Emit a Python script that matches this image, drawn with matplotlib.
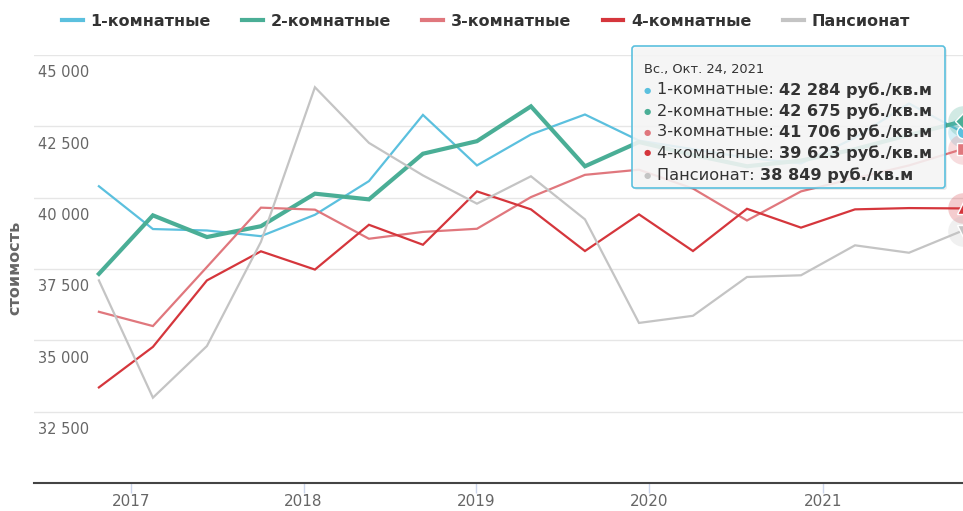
import matplotlib
matplotlib.use("Agg")
import matplotlib.pyplot as plt
import matplotlib.dates as mdates
from matplotlib.lines import Line2D
from matplotlib.patches import FancyBboxPatch
import pandas as pd

# dates of the quarterly-ish points
dates = ["2016-10-26", "2017-02-17", "2017-06-11", "2017-10-03", "2018-01-25",
         "2018-05-19", "2018-09-10", "2019-01-02", "2019-04-26", "2019-08-18",
         "2019-12-10", "2020-04-02", "2020-07-25", "2020-11-16", "2021-03-10",
         "2021-07-02", "2021-10-24"]

rooms1 = [40400, 38900, 38850, 38650, 39400, 40580, 42900, 41130, 42215, 42915,
          42000, 41700, 41400, 41200, 42100, 43300, 42284]
rooms2 = [37330, 39380, 38620, 39000, 40140, 39940, 41540, 41980, 43200, 41100,
          41950, 41500, 41100, 41300, 41700, 42200, 42675]
rooms3 = [36000, 35500, 37570, 39650, 39580, 38560, 38800, 38910, 40020, 40800,
          40980, 40320, 39200, 40220, 40680, 41130, 41706]
rooms4 = [33350, 34770, 37100, 38120, 37480, 39050, 38350, 40220, 39590, 38130,
          39415, 38130, 39610, 38950, 39590, 39635, 39623]
pension = [37100, 32990, 34800, 38450, 43870, 41920, 40780, 39790, 40750, 39240,
           35610, 35860, 37220, 37280, 38330, 38070, 38849]

names = ["1-комнатные", "2-комнатные", "3-комнатные", "4-комнатные", "Пансионат"]
colors = ["#5bc0de", "#4aae96", "#e0777d", "#d5363c", "#c4c4c4"]
widths = [1.6, 3.0, 1.6, 1.6, 1.6]
end_markers = ["o", "D", "s", "^", "v"]
yticks = [30000, 32500, 35000, 37500, 40000, 42500, 45000]
years = ["2017", "2018", "2019", "2020", "2021"]
tooltip_title = "Вс., Окт. 24, 2021"

series = [rooms1, rooms2, rooms3, rooms4, pension]
x = pd.to_datetime(dates)

W, H = 963, 511
fig = plt.figure(figsize=(W / 100, H / 100), dpi=100)
ax = fig.add_axes([34 / W, 28 / H, (W - 34) / W, (483 - 55) / H])

handles = []
for vals, name, c, lw, m in zip(series, names, colors, widths, end_markers):
    ax.plot(x, vals, color=c, lw=lw, solid_joinstyle="miter", zorder=3)
    # hovered end point with halo
    ax.plot(x[-1:], vals[-1:], marker="o", ms=22, color=c, alpha=0.25,
            mec="none", clip_on=False, zorder=4)
    ax.plot(x[-1:], vals[-1:], marker=m, ms=9 if m != "D" else 8, color=c,
            mec="white", mew=1, clip_on=False, zorder=5)
    handles.append(Line2D([], [], color=c, lw=3))

right = x[-1]
left = right - pd.Timedelta(days=1961)
ax.set_xlim(left, right)
ax.set_ylim(30000, 45000)

ax.set_yticks(yticks)
ax.yaxis.grid(True, color="#e6e6e6", lw=1)
ax.tick_params(axis="y", length=0, labelleft=False)
for v in yticks[1:]:
    ax.annotate(f"{v:,}".replace(",", " "), xy=(0, v),
                xycoords=("axes fraction", "data"), xytext=(3, -7.5),
                textcoords="offset points", ha="left", va="top",
                fontsize=10.5, color="#666666")

ax.set_xticks(pd.to_datetime([y + "-01-01" for y in years]))
ax.xaxis.set_major_formatter(mdates.DateFormatter("%Y"))
ax.tick_params(axis="x", length=7, width=1, color="#ccd6eb", labelsize=11,
               labelcolor="#666666", pad=1)

for s in ["top", "right", "left"]:
    ax.spines[s].set_visible(False)
ax.spines["bottom"].set_color("#444444")
ax.spines["bottom"].set_linewidth(1.5)
ax.set_axisbelow(True)

fig.text(15 / W, 1 - 268 / H, "стоимость", rotation=90, ha="center",
         va="center", fontsize=11.5, color="#666666", fontweight="bold")

fig.legend(handles, names, loc="center", bbox_to_anchor=(486 / W, 1 - 21 / H),
           ncol=5, frameon=False, handlelength=1.3, handletextpad=0.5,
           columnspacing=1.95, prop={"weight": "bold", "size": 11.5},
           labelcolor="#333333")

# tooltip
x0, y0, x1, y1 = 632, 46, 945, 188
shadow = FancyBboxPatch((x0 + 2, H - y1 - 2), x1 - x0, y1 - y0,
                        boxstyle="round,pad=0,rounding_size=3",
                        transform=None, fc="black", ec="none", alpha=0.08,
                        zorder=9)
box = FancyBboxPatch((x0, H - y1), x1 - x0, y1 - y0,
                     boxstyle="round,pad=0,rounding_size=3",
                     transform=None, fc=(0.97, 0.97, 0.97, 0.88),
                     ec="#5bc0de", lw=1.2, zorder=10)
fig.patches.extend([shadow, box])

fig.text(644 / W, 1 - 69 / H, tooltip_title, fontsize=9.4, color="#333333",
         va="center", ha="left", zorder=11)

fig.canvas.draw()
renderer = fig.canvas.get_renderer()
row_y = [90, 111, 132, 153, 175]
for name, vals, c, ry in zip(names, series, colors, row_y):
    fig.text(647 / W, 1 - ry / H, "●", fontsize=6, color=c, va="center",
             ha="center", zorder=11)
    t = fig.text(657 / W, 1 - ry / H, name + ": ", fontsize=11.6,
                 color="#333333", va="center", ha="left", zorder=11)
    bb = t.get_window_extent(renderer)
    value = f"{vals[-1]:,}".replace(",", " ") + " руб./кв.м"
    fig.text(bb.x1 / W, 1 - ry / H, value, fontsize=11.6, color="#333333",
             va="center", ha="left", fontweight="bold", zorder=11)

fig.savefig("out.png", dpi=100)
